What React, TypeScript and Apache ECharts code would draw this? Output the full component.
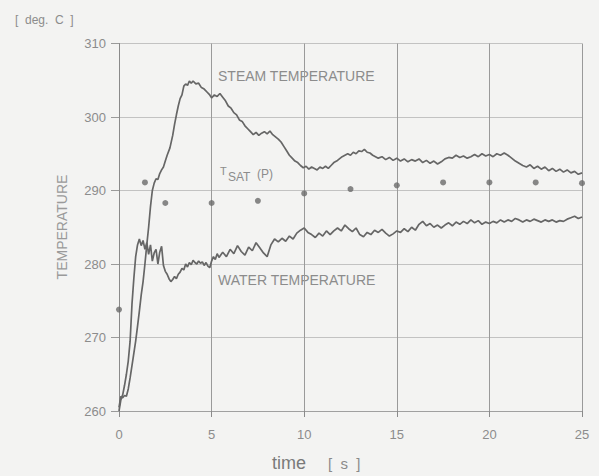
import React, { useEffect, useRef } from "react";
import * as echarts from "echarts";

const xTicks = [0, 5, 10, 15, 20, 25];
const yTicks = [260, 270, 280, 290, 300, 310];

const steamTime = [
  0, 0.1, 0.2, 0.3, 0.4, 0.5, 0.6, 0.75, 0.9, 1.0, 1.1, 1.2, 1.3, 1.4, 1.5, 1.6, 1.7, 1.8, 1.9, 2.0,
  2.1, 2.2, 2.3, 2.4, 2.5, 2.6, 2.75, 2.9, 3.0, 3.1, 3.2, 3.3, 3.4, 3.5, 3.6, 3.7, 3.8, 3.9, 4.0, 4.15,
  4.3, 4.45, 4.6, 4.75, 4.9, 5.0, 5.15, 5.3, 5.45, 5.6, 5.75, 5.9, 6.05, 6.2, 6.35, 6.5, 6.65, 6.8, 6.95, 7.1,
  7.25, 7.4, 7.55, 7.7, 7.85, 8.0, 8.15, 8.3, 8.45, 8.6, 8.75, 8.9, 9.05, 9.2, 9.35, 9.5, 9.65, 9.8, 9.95, 10.1,
  10.25, 10.4, 10.55, 10.7, 10.85, 11.0, 11.15, 11.3, 11.45, 11.6, 11.75, 11.9, 12.05, 12.2, 12.35, 12.5, 12.65, 12.8, 12.95, 13.1,
  13.25, 13.4, 13.55, 13.7, 13.85, 14.0, 14.2, 14.4, 14.6, 14.8, 15.0, 15.2, 15.4, 15.6, 15.8, 16.0, 16.2, 16.4, 16.6, 16.8,
  17.0, 17.2, 17.4, 17.6, 17.8, 18.0, 18.2, 18.4, 18.6, 18.8, 19.0, 19.2, 19.4, 19.6, 19.8, 20.0, 20.2, 20.4, 20.6, 20.8,
  21.0, 21.2, 21.4, 21.6, 21.8, 22.0, 22.2, 22.4, 22.6, 22.8, 23.0, 23.2, 23.4, 23.6, 23.8, 24.0, 24.2, 24.4, 24.6, 24.8, 25.0,
];
const steamTemp = [
  260.5, 262.0, 261.8, 262.1, 262.0, 263.0, 264.5, 267.0, 269.5, 271.5, 273.6, 275.8, 277.6, 280.0, 282.6, 285.0, 287.8, 290.0, 291.0, 291.6,
  291.5, 292.3, 292.8, 293.2, 294.0, 294.8, 295.8, 297.5, 299.0, 300.3, 301.5, 302.5, 303.0, 304.2, 304.5, 304.3, 304.9, 304.6, 304.9, 304.5,
  304.6, 304.0, 303.8, 303.4, 303.0, 302.6, 303.0, 302.8, 303.2, 302.7, 302.2, 301.5, 301.2, 300.6, 300.3, 299.6, 299.4, 298.8, 298.4, 298.0,
  297.6, 297.9, 297.5, 297.8, 298.0, 297.7, 298.1, 297.6, 297.3, 297.0, 296.6, 296.0, 295.4, 294.8, 294.4, 294.0, 293.8, 293.4, 293.1, 293.3,
  292.9, 293.2, 293.0, 292.8, 293.2, 293.0, 293.3, 293.0, 293.4, 293.8, 294.0, 294.3, 294.6, 294.8, 295.0, 294.8, 295.2, 295.0, 295.4, 295.3,
  295.6, 295.2, 295.1, 294.8, 294.6, 294.4, 294.6, 294.2, 294.5, 294.1, 294.4, 294.0, 294.3, 293.9, 294.2, 294.0, 294.3, 293.8, 294.1, 293.7,
  294.0, 293.6, 293.9, 294.3, 294.5, 294.4, 294.8, 294.5, 294.7, 294.4, 294.6, 294.9, 294.6, 295.0, 294.7, 294.9, 294.6, 295.0, 294.8, 295.1,
  294.8, 294.4, 294.0, 293.7, 293.4, 293.2, 293.5, 293.0, 293.3, 292.9, 293.2, 292.7, 293.0, 292.6, 292.9, 292.5, 292.8, 292.4, 292.6, 292.2, 292.4,
];

const waterTime = [
  0, 0.1, 0.2, 0.3, 0.4, 0.5, 0.6, 0.7, 0.8, 0.9, 1.0, 1.1, 1.2, 1.3, 1.4, 1.5, 1.6, 1.7, 1.8, 1.9,
  2.0, 2.1, 2.2, 2.3, 2.4, 2.5, 2.6, 2.7, 2.8, 2.9, 3.0, 3.1, 3.2, 3.3, 3.4, 3.5, 3.6, 3.7, 3.8, 3.9,
  4.0, 4.1, 4.2, 4.3, 4.4, 4.5, 4.6, 4.7, 4.8, 4.9, 5.0, 5.1, 5.2, 5.3, 5.4, 5.6, 5.8, 6.0, 6.2, 6.4,
  6.6, 6.8, 7.0, 7.2, 7.4, 7.6, 7.8, 8.0, 8.2, 8.4, 8.6, 8.8, 9.0, 9.2, 9.4, 9.6, 9.8, 10.0, 10.2, 10.4,
  10.6, 10.8, 11.0, 11.2, 11.4, 11.6, 11.8, 12.0, 12.2, 12.4, 12.6, 12.8, 13.0, 13.2, 13.4, 13.6, 13.8, 14.0, 14.2, 14.4,
  14.6, 14.8, 15.0, 15.2, 15.4, 15.6, 15.8, 16.0, 16.2, 16.4, 16.6, 16.8, 17.0, 17.2, 17.4, 17.6, 17.8, 18.0, 18.2, 18.4,
  18.6, 18.8, 19.0, 19.2, 19.4, 19.6, 19.8, 20.0, 20.2, 20.4, 20.6, 20.8, 21.0, 21.2, 21.4, 21.6, 21.8, 22.0, 22.2, 22.4,
  22.6, 22.8, 23.0, 23.2, 23.4, 23.6, 23.8, 24.0, 24.2, 24.4, 24.6, 24.8, 25.0,
];
const waterTemp = [
  260.0, 261.5, 262.2, 263.5, 265.0, 266.8, 269.5, 274.5, 278.0, 281.0, 282.6, 283.4, 282.5, 283.2, 282.0, 282.9, 281.3, 282.6, 280.4, 281.5,
  282.0, 280.0, 281.6, 282.4, 279.8, 279.0, 278.6, 278.0, 277.6, 277.9, 278.3, 278.0, 278.6, 278.9, 279.4, 279.2, 280.0, 279.6, 280.2, 279.9,
  280.5, 280.2, 280.0, 280.4, 280.1, 280.3, 279.8, 280.2, 279.7, 279.5, 280.4, 281.0, 280.6, 281.4, 280.9, 281.6, 281.0, 282.0, 281.4, 282.5,
  281.7, 281.2, 282.3, 281.8, 282.9, 282.2, 281.5, 281.0, 282.6, 283.4, 283.0, 283.5, 283.1, 283.8, 283.4, 284.2, 284.6, 284.9, 284.3, 284.0,
  283.6, 284.2, 283.8, 284.5, 284.0, 284.5, 284.9, 284.5, 285.3, 284.8, 284.4, 284.9, 284.0, 283.7, 284.3, 284.0, 284.6, 284.3, 284.7, 284.2,
  283.8, 284.1, 284.5, 284.3, 284.8, 284.4, 285.0, 284.6, 285.4, 285.8, 285.2, 285.5, 285.0, 285.3, 284.9, 285.3, 285.6, 285.2, 285.7, 285.4,
  285.8, 285.5, 286.0, 285.6, 285.9, 285.4, 285.7, 285.5, 285.8, 285.6, 286.0, 285.7, 286.0, 285.8, 286.2, 286.0, 285.7, 286.0, 285.8, 286.1,
  285.9, 285.7, 286.0, 285.8, 286.0, 285.7, 285.9, 285.8, 286.1, 286.3, 286.5, 286.2, 286.4,
];

const satTime = [0, 1.4, 2.5, 5, 7.5, 10, 12.5, 15, 17.5, 20, 22.5, 25];
const satTemp = [273.8, 291.1, 288.3, 288.3, 288.6, 289.6, 290.2, 290.7, 291.1, 291.1, 291.1, 291.0];

const labels = {
  steam: "STEAM TEMPERATURE",
  water: "WATER TEMPERATURE",
  yUnit: "[  deg.  C  ]",
  yName: "TEMPERATURE",
  xName: "time",
  xUnit: "[  s  ]",
};

const FONT = "'Liberation Sans', Arial, sans-serif";
const TEXT = "#8c8c8c";
const LINE = "#666666";

export default function App() {
  const ref = useRef<HTMLDivElement>(null);
  useEffect(() => {
    if (!ref.current) return;
    const chart = echarts.init(ref.current, null, { renderer: "svg" });
    const zip = (xs: number[], ys: number[]) => xs.map((x, i) => [x, ys[i]]);
    chart.setOption({
      animation: false,
      backgroundColor: "#f3f3f2",
      grid: { left: 119, right: 17, top: 43.5, bottom: 65 },
      xAxis: {
        type: "value",
        min: xTicks[0],
        max: xTicks[xTicks.length - 1],
        interval: 5,
        axisLine: { lineStyle: { color: "#a0a0a0", width: 1 } },
        axisTick: { show: true, length: 6, lineStyle: { color: "#8a8a8a" } },
        axisLabel: { color: TEXT, fontSize: 13, fontFamily: FONT, margin: 17 },
        splitLine: { show: true, lineStyle: { color: "#9a9a9a", width: 1 } },
      },
      yAxis: {
        type: "value",
        min: yTicks[0],
        max: yTicks[yTicks.length - 1],
        interval: 10,
        axisLine: { show: true, lineStyle: { color: "#8a8a8a", width: 1 } },
        axisTick: { show: true, length: 8, lineStyle: { color: "#9a9a9a" } },
        axisLabel: { color: TEXT, fontSize: 13, fontFamily: FONT, margin: 13 },
        splitLine: { show: true, lineStyle: { color: "#c2c2c2", width: 1 } },
      },
      series: [
        {
          type: "line",
          data: zip(steamTime, steamTemp),
          showSymbol: false,
          lineStyle: { color: LINE, width: 1.7 },
          z: 3,
        },
        {
          type: "line",
          data: zip(waterTime, waterTemp),
          showSymbol: false,
          lineStyle: { color: LINE, width: 1.7 },
          z: 3,
        },
        {
          type: "scatter",
          data: zip(satTime, satTemp),
          symbol: "circle",
          symbolSize: 6,
          itemStyle: { color: "#6a6a6a" },
          z: 4,
        },
      ],
      graphic: [
        { type: "text", left: 15, top: 14, style: { text: labels.yUnit, fill: TEXT, font: `12px ${FONT}` } },
        {
          type: "text",
          x: 62,
          y: 227,
          rotation: Math.PI / 2,
          style: { text: labels.yName, fill: "#9a9a9a", font: `14px ${FONT}`, align: "center", verticalAlign: "middle" },
        },
        { type: "text", x: 272, y: 463, style: { text: labels.xName, fill: "#7a7a7a", font: `18px ${FONT}`, verticalAlign: "middle" } },
        { type: "text", x: 328, y: 463, style: { text: labels.xUnit, fill: "#8a8a8a", font: `15px ${FONT}`, verticalAlign: "middle" } },
        { type: "text", x: 218, y: 76, style: { text: labels.steam, fill: TEXT, font: `14px ${FONT}`, verticalAlign: "middle" } },
        { type: "text", x: 218, y: 280, style: { text: labels.water, fill: TEXT, font: `14px ${FONT}`, verticalAlign: "middle" } },
        { type: "text", x: 220, y: 171, style: { text: "T", fill: TEXT, font: `11px ${FONT}`, verticalAlign: "middle" } },
        { type: "text", x: 228, y: 177, style: { text: "SAT", fill: TEXT, font: `12px ${FONT}`, verticalAlign: "middle" } },
        { type: "text", x: 257, y: 174, style: { text: "(P)", fill: TEXT, font: `12px ${FONT}`, verticalAlign: "middle" } },
      ],
    });
    return () => chart.dispose();
  }, []);
  return <div ref={ref} style={{ position: "fixed", left: 0, top: 0, width: 599, height: 476 }} />;
}
